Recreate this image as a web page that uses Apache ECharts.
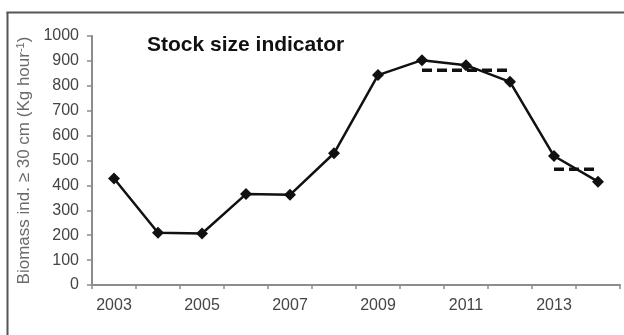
<!DOCTYPE html>
<html>
<head>
<meta charset="utf-8">
<script src="https://cdn.jsdelivr.net/npm/echarts@6/dist/echarts.min.js"></script>
<style>
  html, body { margin: 0; padding: 0; background: #fff; }
  #chart { width: 624px; height: 335px; }
</style>
</head>
<body>
<div id="chart"></div>
<script>
// Survey years
const years = ['2003', '2004', '2005', '2006', '2007', '2008', '2009', '2010', '2011', '2012', '2013', '2014'];
// Biomass of individuals >= 30 cm (kg per hour)
const biomass = [428, 210, 207, 365, 362, 529, 843, 903, 883, 816, 518, 415];
// Period averages drawn as dashed reference levels
const meanLevel2010to2012 = [null, null, null, null, null, null, null, 862, 862, 862, null, null];
const meanLevel2013to2014 = [null, null, null, null, null, null, null, null, null, null, 465, 465];
// Y-axis scale
const yMin = 0, yMax = 1000, yStep = 100;

const chart = echarts.init(document.getElementById('chart'), null, { renderer: 'canvas' });

const axisGrey = '#8c8c8c';
const labelGrey = '#454545';
const font = 'Liberation Sans, Arial, sans-serif';

chart.setOption({
  animation: false,
  backgroundColor: '#fff',
  title: {
    text: 'Stock size indicator',
    left: 147,
    top: 35,
    padding: 0,
    textStyle: { fontFamily: font, fontWeight: 'bold', fontSize: 21, color: '#111' }
  },
  graphic: [
    // panel frame: left and top edges
    { type: 'line', shape: { x1: 7.5, y1: 12, x2: 7.5, y2: 335 }, style: { stroke: '#555', lineWidth: 2 } },
    { type: 'line', shape: { x1: 6.5, y1: 12.5, x2: 624, y2: 12.5 }, style: { stroke: '#555', lineWidth: 2 } }
  ],
  grid: { left: 92, right: 4, top: 36, bottom: 50, containLabel: false },
  xAxis: {
    type: 'category',
    data: years,
    boundaryGap: true,
    axisLine: { lineStyle: { color: axisGrey, width: 2 } },
    axisTick: { show: true, interval: 0, length: 4, lineStyle: { color: axisGrey, width: 1.5 } },
    axisLabel: { interval: 1, margin: 13, color: labelGrey, fontFamily: font, fontSize: 16 },
    splitLine: { show: false }
  },
  yAxis: {
    type: 'value',
    min: yMin,
    max: yMax,
    interval: yStep,
    name: 'Biomass ind. ≥ 30 cm (Kg hour{sup|-1})',
    nameLocation: 'middle',
    nameRotate: 90,
    nameGap: 59,
    nameTextStyle: {
      fontFamily: font, fontSize: 17, color: '#6a6a6a',
      rich: { sup: { fontFamily: font, fontSize: 11, color: '#6a6a6a', verticalAlign: 'top', padding: [0, 0, 7, 0] } }
    },
    axisLine: { show: true, lineStyle: { color: axisGrey, width: 2 } },
    axisTick: { show: true, length: 5, lineStyle: { color: axisGrey, width: 1.5 } },
    axisLabel: { margin: 13, color: labelGrey, fontFamily: font, fontSize: 16, formatter: v => String(v) },
    splitLine: { show: false }
  },
  series: [
    {
      name: 'Biomass',
      type: 'line',
      data: biomass,
      symbol: 'diamond',
      symbolSize: 12,
      lineStyle: { color: '#111', width: 2.5 },
      itemStyle: { color: '#111' },
      z: 3
    },
    {
      name: 'Mean 2010-2012',
      type: 'line',
      data: meanLevel2010to2012,
      symbol: 'none',
      connectNulls: false,
      lineStyle: { color: '#111', width: 3.5, type: [10, 5] },
      z: 2
    },
    {
      name: 'Mean 2013-2014',
      type: 'line',
      data: meanLevel2013to2014,
      symbol: 'none',
      connectNulls: false,
      lineStyle: { color: '#111', width: 3.5, type: [10, 5] },
      z: 2
    }
  ]
});
</script>
</body>
</html>
